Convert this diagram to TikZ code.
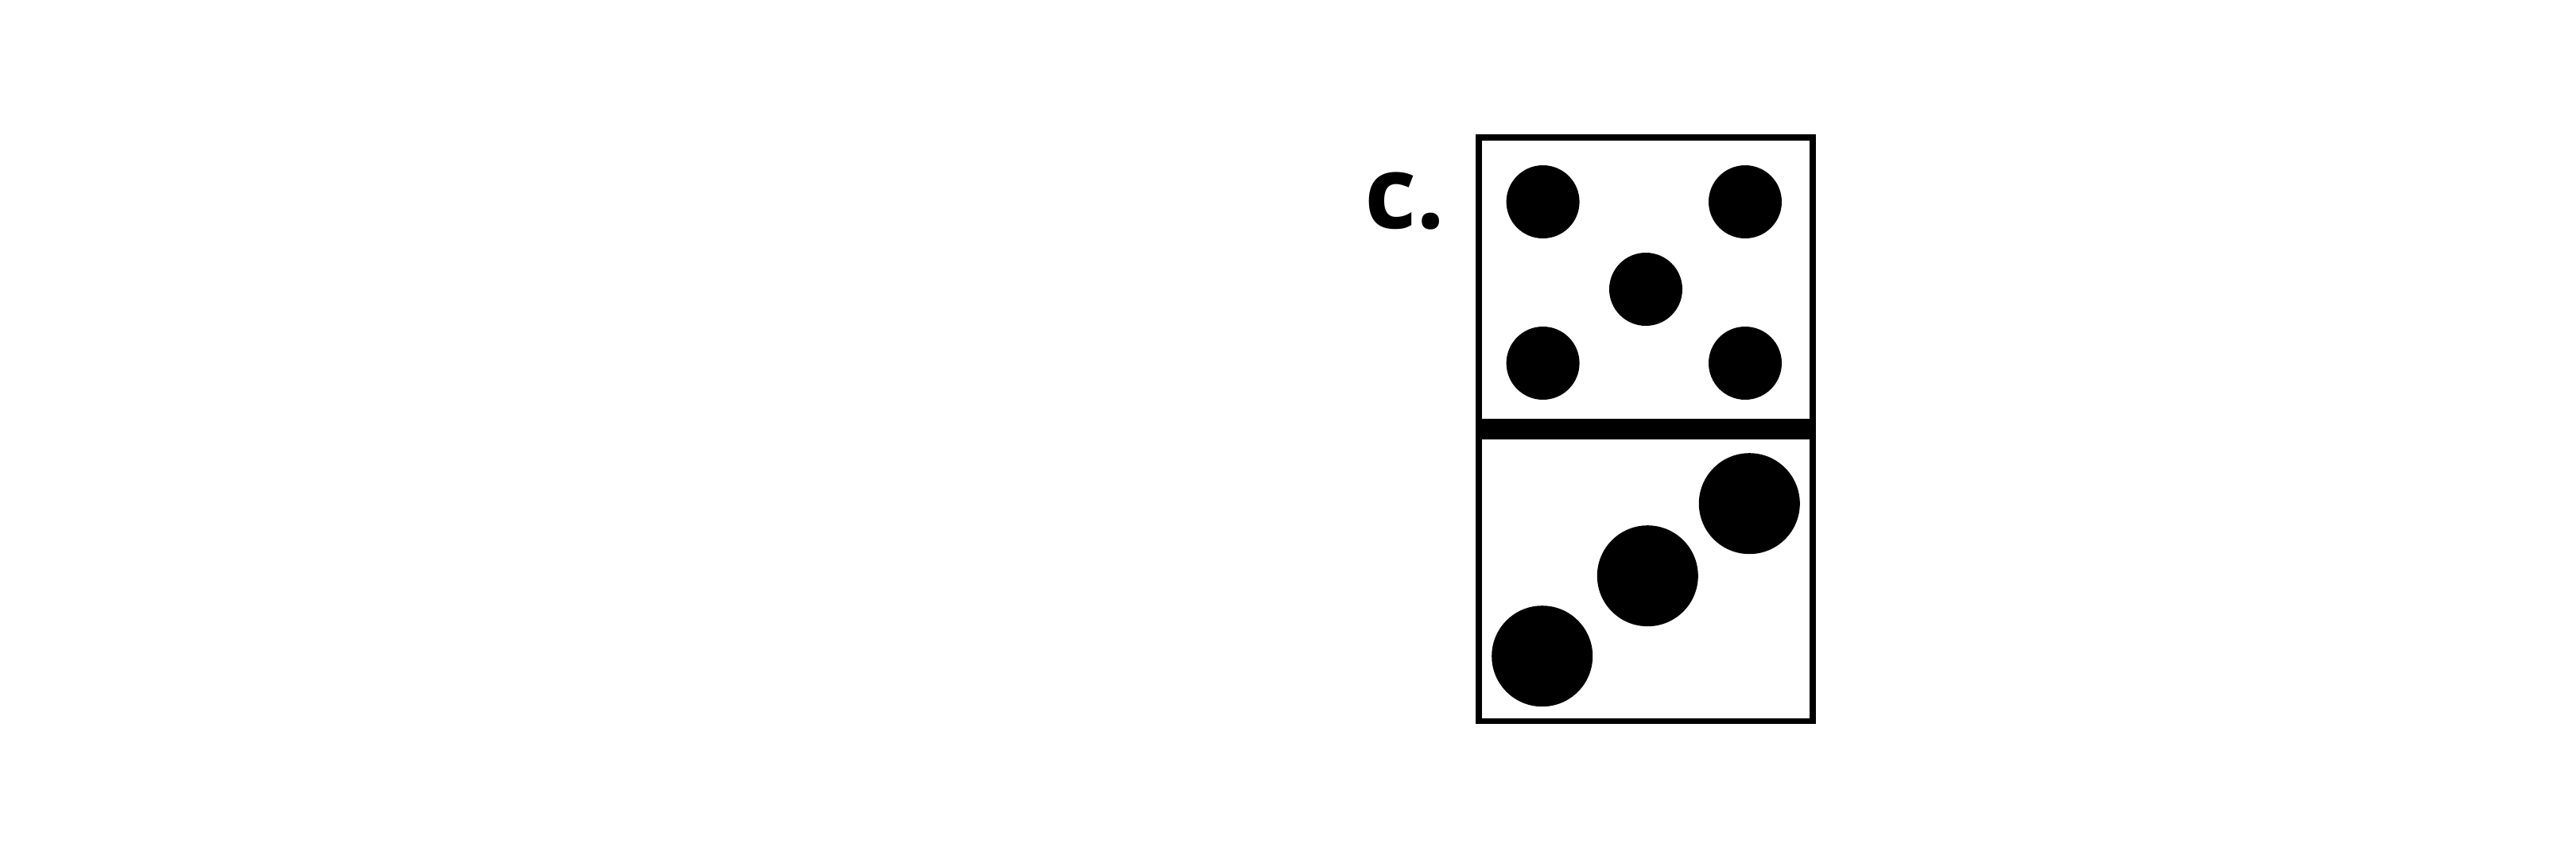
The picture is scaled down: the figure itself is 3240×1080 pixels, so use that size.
\documentclass[tikz,border=0pt]{standalone}
\usepackage{fontspec}
\setmainfont{Open Sans}
\begin{document}
\begin{tikzpicture}[x=1pt,y=-1pt,
  frame/.style={draw=black,line width=7.5pt},
  dot/.style={fill=black},
  lbl/.style={font=\fontsize{127}{130}\selectfont\bfseries,inner sep=0pt,anchor=base west}]
\useasboundingbox[fill=white] (0,0) rectangle (3240,1080);
\draw[frame] (1859.8,172.8) rectangle (2280.2,907.5);
\fill (1856,527) rectangle (2284,553);
% upper dots
\fill[dot] (1940.6,254) circle (46);
\fill[dot] (2195,254) circle (46);
\fill[dot] (2070,364) circle (46);
\fill[dot] (1940.6,457) circle (46);
\fill[dot] (2195,457) circle (46);
% lower dots
\fill[dot] (1939.7,825.7) circle (63.5);
\fill[dot] (2072.3,724.7) circle (63.5);
\fill[dot] (2200.3,633.7) circle (63.5);
\node[lbl] (c) at (1716,287) {c.};
\end{tikzpicture}
\end{document}
